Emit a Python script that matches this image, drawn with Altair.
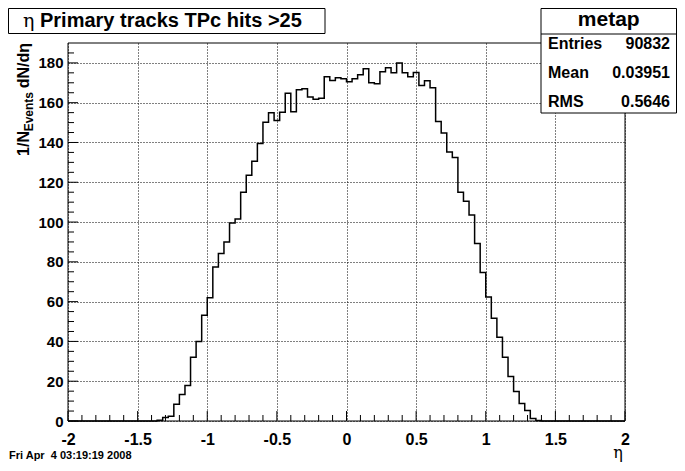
import altair as alt
import pandas as pd

# ---------------- data ----------------
bin_width = 0.04
first_edge = -1.36
counts = [0.4, 1.7, 2.4, 8.4, 13.3, 17.8, 32.0, 40.0, 53.2, 62.0,
          77.4, 84.2, 90.0, 99.5, 101.5, 115.0, 123.5, 130.5, 139.5, 150.2,
          155.0, 151.0, 155.2, 164.7, 155.5, 166.5, 167.0, 162.8, 161.7, 162.2,
          173.0, 171.2, 172.5, 172.0, 170.5, 172.0, 174.0, 177.0, 170.0, 169.5,
          175.5, 177.5, 175.0, 180.0, 175.0, 173.0, 175.2, 168.7, 171.0, 167.5,
          150.6, 144.7, 135.2, 132.5, 115.0, 110.5, 103.5, 89.2, 74.7, 62.3,
          51.7, 42.1, 32.0, 22.4, 14.8, 8.8, 5.3, 1.2, 0.3]

x_domain = [-2, 2]
y_domain = [0, 190]
x_major = [-2, -1.5, -1, -0.5, 0, 0.5, 1, 1.5, 2]
y_major = [0, 20, 40, 60, 80, 100, 120, 140, 160, 180]
x_minor = [round(-2 + 0.1 * i, 1) for i in range(41) if i % 5 != 0]
y_minor = [5 * i for i in range(1, 38) if i % 4 != 0]

title_eta = "η"
title_rest = "Primary tracks TPc hits >25"
stats_name = "metap"
stat_labels = ["Entries", "Mean", "RMS"]
stat_values = ["90832", "0.03951", "0.5646"]
ytitle_main1 = "1/N"
ytitle_sub = "Events"
ytitle_main2 = " dN/dη"
date_text = "Fri Apr \u00a04 03:19:19 2008"
xtitle = "η"

# ---------------- build tables ----------------
edges = [round(first_edge + i * bin_width, 4) for i in range(len(counts) + 1)]
hist = pd.DataFrame({
    "v": [x_domain[0]] + edges[:-1] + [edges[-1], x_domain[1]],
    "n": [0] + counts + [0, 0],
})

W, H = 557, 378
FONT = "Liberation Sans"
xs = alt.Scale(domain=x_domain, nice=False, zero=False)
ys = alt.Scale(domain=y_domain, nice=False, zero=False)
xa = alt.Axis(values=x_major, labelExpr="datum.value + ''", labelFlush=False,
              labelOverlap=False, labelPadding=10, labelFontSize=16, title=None)
ya = alt.Axis(values=y_major, labelPadding=5, labelFontSize=15, labelOverlap=False, title=None)
one = alt.Data(values=[{}])

frame = alt.Chart(one).mark_rect(fillOpacity=0, stroke="black", strokeWidth=1).encode(
    x=alt.value(0), x2=alt.value(W), y=alt.value(0), y2=alt.value(H))

line = alt.Chart(hist).mark_line(interpolate="step-after", color="black", strokeWidth=1.5).encode(
    x=alt.X("v:Q", scale=xs, axis=xa),
    y=alt.Y("n:Q", scale=ys, axis=ya),
)

def xticks(vals, length):
    return alt.Chart(pd.DataFrame({"v": vals})).mark_rule(color="black", strokeWidth=1).encode(
        x=alt.X("v:Q", scale=xs, axis=xa), y=alt.value(H), y2=alt.value(H - length))

def yticks(vals, length):
    return alt.Chart(pd.DataFrame({"n": vals})).mark_rule(color="black", strokeWidth=1).encode(
        y=alt.Y("n:Q", scale=ys, axis=ya), x=alt.value(0), x2=alt.value(length))

def box(x1, x2, y1, y2):
    return alt.Chart(one).mark_rect(fill="white", stroke="black", strokeWidth=1).encode(
        x=alt.value(x1), x2=alt.value(x2), y=alt.value(y1), y2=alt.value(y2))

def txt(s, x, y, size, align="left", weight="bold", font=FONT, angle=0, baseline="alphabetic"):
    return alt.Chart(one).mark_text(text=s, align=align, baseline=baseline, font=font,
                                    fontSize=size, fontWeight=weight, angle=angle,
                                    color="black").encode(x=alt.value(x), y=alt.value(y))

layers = [frame, line,
          xticks(x_major, 10), xticks(x_minor, 6),
          yticks(y_major, 10), yticks(y_minor, 6)]

# title box
layers.append(box(-59.5, 257, -34.5, -9.5))
layers.append(txt(title_eta, -45, -16.5, 19, weight="normal", font="DejaVu Serif"))
layers.append(txt(title_rest, -28, -16.5, 20))

# stats box
sx1, sx2 = 473, 608.5
layers.append(box(sx1, sx2, -34.5, 70))
layers.append(alt.Chart(one).mark_rule(color="black", strokeWidth=1).encode(
    x=alt.value(sx1), x2=alt.value(sx2), y=alt.value(-9)))
layers.append(txt(stats_name, (sx1 + sx2) / 2, -17.5, 21, align="center"))
for i, (lab, val) in enumerate(zip(stat_labels, stat_values)):
    yy = 6.3 + i * 28.7
    layers.append(txt(lab, 480, yy, 16))
    layers.append(txt(val, 602, yy, 16, align="right"))

# y title (rotated)
layers.append(txt(ytitle_main2, -39, 0, 16, align="right", angle=270))
layers.append(txt(ytitle_sub, -35, 49, 12, align="right", angle=270))
layers.append(txt(ytitle_main1, -39, 88, 16, align="right", angle=270))

# date and x title
layers.append(txt(date_text, -59, 416, 11))
layers.append(txt(xtitle, 550, 415, 16, align="center", weight="normal", font="DejaVu Serif"))

chart = alt.layer(*layers).properties(
    width=W, height=H,
    padding={"left": 60, "top": 35, "right": 52, "bottom": 42},
    autosize=alt.AutoSizeParams(type="none"),
).configure_view(strokeWidth=0).configure_axis(
    domain=False, ticks=False, grid=True, gridColor="black", gridDash=[1, 2],
    gridOpacity=1, gridWidth=1, labelFont=FONT, labelFontWeight="bold", labelColor="black",
)

chart.save("out.html", embed_options={"renderer": "svg", "actions": False})
